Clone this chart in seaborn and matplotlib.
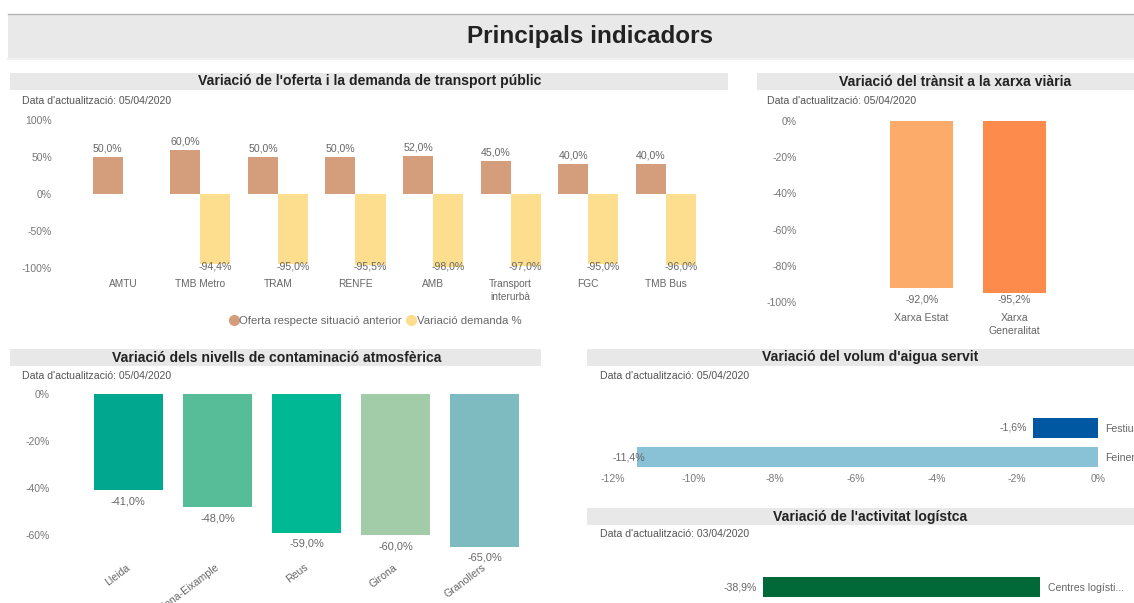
import matplotlib
matplotlib.use("Agg")
import matplotlib.pyplot as plt
import seaborn as sns
import numpy as np
import pandas as pd
from matplotlib.patches import Rectangle
from matplotlib.lines import Line2D
from matplotlib.ticker import FuncFormatter

# ---------------- data ----------------
header_title = "Principals indicadors"

transport_title = "Variació de l'oferta i la demanda de transport públic"
transport_categories = ["AMTU", "TMB Metro", "TRAM", "RENFE", "AMB",
                        "Transport\ninterurbà", "FGC", "TMB Bus"]
transport_series = ["Oferta respecte situació anterior", "Variació demanda %"]
oferta_values = [50.0, 60.0, 50.0, 50.0, 52.0, 45.0, 40.0, 40.0]
demanda_values = [np.nan, -94.4, -95.0, -95.5, -98.0, -97.0, -95.0, -96.0]
transport_yticks = [-100, -50, 0, 50, 100]

transit_title = "Variació del trànsit a la xarxa viària"
transit_categories = ["Xarxa Estat", "Xarxa\nGeneralitat"]
transit_values = [-92.0, -95.2]
transit_yticks = [0, -20, -40, -60, -80, -100]

contam_title = "Variació dels nivells de contaminació atmosfèrica"
contam_categories = ["Lleida", "Barcelona-Eixample", "Reus", "Girona", "Granollers"]
contam_values = [-41.0, -48.0, -59.0, -60.0, -65.0]
contam_yticks = [0, -20, -40, -60]

aigua_title = "Variació del volum d'aigua servit"
aigua_categories = ["Festius", "Feiners"]
aigua_values = [-1.6, -11.4]
aigua_xticks = [-12, -10, -8, -6, -4, -2, 0]

logist_title = "Variació de l'activitat logístca"
logist_categories = ["Centres logísti..."]
logist_values = [-38.9]

update_dates = ["05/04/2020", "05/04/2020", "05/04/2020", "05/04/2020", "03/04/2020"]

# ---------------- style ----------------
plt.rcParams["font.family"] = ["Liberation Sans", "DejaVu Sans"]
W, H = 1134, 603
fig = plt.figure(figsize=(W / 100, H / 100), dpi=100)
fig.patch.set_facecolor("white")

C_OF = "#D49E7C"
C_DEM = "#FDDE8E"
C_TRANSIT = ["#FDAB6A", "#FD8B4C"]
C_CONTAM = ["#01A78F", "#57BD99", "#00B894", "#A2CCA8", "#7DBBC1"]
C_AIGUA = ["#0158A2", "#89C2D7"]
C_LOG = ["#006937"]
BAND = "#e8e8e8"
TICK_C = "#777777"
LAB_C = "#666666"
TICK_FS = 7.5


def fx(x):
    return x / W


def fy(y):
    return 1 - y / H


def add_axes_px(x0, y0, x1, y1):
    return fig.add_axes([fx(x0), fy(y1), (x1 - x0) / W, (y1 - y0) / H])


def band(x0, y0, x1, y1, color=BAND):
    fig.patches.append(Rectangle((fx(x0), fy(y1)), (x1 - x0) / W, (y1 - y0) / H,
                                 transform=fig.transFigure, facecolor=color,
                                 edgecolor="none", zorder=0))


def pct1(v):
    return f"{v:.1f}%".replace(".", ",")


pct0 = FuncFormatter(lambda v, p: f"{v:.0f}%")


def clean(ax):
    sns.despine(ax=ax, left=True, bottom=True, right=True, top=True)
    ax.set_xlabel("")
    ax.set_ylabel("")
    ax.set_facecolor("none")
    ax.tick_params(length=0, labelsize=TICK_FS, labelcolor=TICK_C)


# ---------------- header ----------------
band(8, 14, W, 58, "#e9e9e9")
fig.lines.append(Line2D([fx(8), 1], [fy(14), fy(14)], transform=fig.transFigure,
                        color="#b5b5b5", lw=1))
fig.lines.append(Line2D([fx(8), 1], [fy(58.5), fy(58.5)], transform=fig.transFigure,
                        color="#f2f2f2", lw=1.5))
fig.text(fx(590), fy(36), header_title, ha="center", va="center",
         fontsize=17.5, fontweight="bold", color="#222222")

# panel title bands
panels = [
    (10, 73, 728, 90, 370, transport_title, 22, 101),
    (757, 73, W, 90, 955, transit_title, 767, 101),
    (10, 349, 541, 366, 277, contam_title, 22, 376),
    (587, 349, W, 366, 870, aigua_title, 600, 376),
    (587, 508, W, 525, 870, logist_title, 600, 534),
]
for (x0, y0, x1, y1, tx, title, dx, dy), date in zip(panels, update_dates):
    band(x0, y0, x1, y1)
    fig.text(fx(tx), fy((y0 + y1) / 2), title, ha="center", va="center",
             fontsize=10.1, fontweight="bold", color="#222222")
    fig.text(fx(dx), fy(dy), f"Data d'actualització: {date}", ha="left",
             va="center", fontsize=7.6, color="#555555")

# ---------------- panel 1: transport ----------------
ax1 = add_axes_px(60, 120, 720, 268)
df1 = pd.DataFrame({
    "cat": transport_categories * 2,
    "serie": [transport_series[0]] * len(transport_categories)
    + [transport_series[1]] * len(transport_categories),
    "val": oferta_values + demanda_values,
})
sns.barplot(data=df1, x="cat", y="val", hue="serie", order=transport_categories,
            hue_order=transport_series, palette=[C_OF, C_DEM], width=0.774,
            saturation=1, errorbar=None, legend=False, ax=ax1)
ax1.set_ylim(-100, 100)
ax1.set_xlim(-0.81, 7.70)
ax1.set_yticks(transport_yticks)
ax1.yaxis.set_major_formatter(pct0)
clean(ax1)
ax1.tick_params(axis="y", pad=5.8)
ax1.tick_params(axis="x", pad=8, labelsize=7.3, labelcolor=LAB_C)
for t in ax1.get_xticklabels():
    t.set_linespacing(1.35)
ymin1 = ax1.get_ylim()[0]
for p in ax1.patches:
    h = p.get_height()
    if h is None or np.isnan(h) or h == 0:
        continue
    xc = p.get_x() + p.get_width() / 2
    if h > 0:
        ax1.annotate(pct1(h), (xc, h), xytext=(0, 2.5), textcoords="offset points",
                     ha="center", va="bottom", fontsize=7.6, color=LAB_C)
    else:
        ax1.annotate(pct1(h), (xc, ymin1), xytext=(0, 1), textcoords="offset points",
                     ha="center", va="center", fontsize=7.6, color=LAB_C)
handles = [Line2D([], [], marker="o", ls="", color=c, markersize=7)
           for c in (C_OF, C_DEM)]
fig.legend(handles, transport_series, loc="center", bbox_to_anchor=(fx(375), fy(321)),
           ncol=2, frameon=False, fontsize=8.2, handletextpad=0.05,
           columnspacing=0.35, handlelength=0.9, labelcolor=LAB_C)

# ---------------- panel 2: transit ----------------
ax2 = add_axes_px(805, 121, 1130, 302)
sns.barplot(x=transit_categories, y=transit_values, hue=transit_categories,
            palette=C_TRANSIT, width=0.68, saturation=1, errorbar=None,
            legend=False, ax=ax2)
ax2.set_ylim(-100, 0)
ax2.set_xlim(-1.26, 2.25)
ax2.set_yticks(transit_yticks)
ax2.yaxis.set_major_formatter(pct0)
clean(ax2)
ax2.tick_params(axis="y", pad=5.8)
ax2.tick_params(axis="x", pad=8, labelsize=7.6, labelcolor=LAB_C)
for t in ax2.get_xticklabels():
    t.set_linespacing(1.3)
ymin2 = ax2.get_ylim()[0]
for p in ax2.patches:
    h = p.get_height()
    xc = p.get_x() + p.get_width() / 2
    ax2.annotate(pct1(h), (xc, ymin2), xytext=(0, 1.5), textcoords="offset points",
                 ha="center", va="center", fontsize=7.6, color=LAB_C)

# ---------------- panel 3: contaminació ----------------
ax3 = add_axes_px(58, 394, 540, 546.75)
sns.barplot(x=contam_categories, y=contam_values, hue=contam_categories,
            palette=C_CONTAM, width=0.775, saturation=1, errorbar=None,
            legend=False, ax=ax3)
ax3.set_ylim(-65, 0)
ax3.set_xlim(-0.79, 4.62)
ax3.set_yticks(contam_yticks)
ax3.yaxis.set_major_formatter(pct0)
clean(ax3)
ax3.tick_params(axis="y", pad=5.8)
ax3.tick_params(axis="x", pad=14, labelsize=7.6, labelcolor=LAB_C)
for t in ax3.get_xticklabels():
    t.set_rotation(37)
    t.set_ha("right")
    t.set_va("center")
    t.set_rotation_mode("anchor")
for p in ax3.patches:
    h = p.get_height()
    xc = p.get_x() + p.get_width() / 2
    ax3.annotate(pct1(h), (xc, h), xytext=(0, -4.5), textcoords="offset points",
                 ha="center", va="top", fontsize=7.9, color=LAB_C)

# ---------------- panel 4: aigua ----------------
ax4 = add_axes_px(613, 413.5, 1098, 471.5)
sns.barplot(x=aigua_values, y=aigua_categories, hue=aigua_categories, orient="h",
            palette=C_AIGUA, width=0.66, saturation=1, errorbar=None,
            legend=False, ax=ax4)
ax4.set_xlim(-12, 0)
ax4.set_ylim(1.5, -0.5)
ax4.set_xticks(aigua_xticks)
ax4.xaxis.set_major_formatter(pct0)
clean(ax4)
ax4.yaxis.tick_right()
ax4.tick_params(axis="x", pad=1.5)
ax4.tick_params(axis="y", pad=5, labelsize=7.6, labelcolor=LAB_C)

fig.canvas.draw()
renderer = fig.canvas.get_renderer()
ax4_bb = ax4.get_window_extent(renderer)
for p in ax4.patches:
    w = p.get_width()
    yc = p.get_y() + p.get_height() / 2
    t = ax4.annotate(pct1(w), (w, yc), xytext=(-4.3, 0), textcoords="offset points",
                     ha="right", va="center", fontsize=7.6, color=LAB_C)
    bb = t.get_window_extent(renderer)
    if bb.x0 < ax4_bb.x0:
        t.remove()
        ax4.annotate(pct1(w), (ax4.get_xlim()[0], yc), xytext=(0, 0),
                     textcoords="offset points", ha="left", va="center",
                     fontsize=7.6, color=LAB_C)

# ---------------- panel 5: logística ----------------
ax5 = add_axes_px(720, 572, 1040, 602)
sns.barplot(x=logist_values, y=logist_categories, hue=logist_categories, orient="h",
            palette=C_LOG, width=0.67, saturation=1, errorbar=None,
            legend=False, ax=ax5)
ax5.set_xlim(-45, 0)
ax5.set_ylim(0.5, -0.5)
clean(ax5)
ax5.set_xticks([])
ax5.yaxis.tick_right()
ax5.tick_params(axis="y", pad=5.8, labelsize=7.6, labelcolor=LAB_C)
for p in ax5.patches:
    w = p.get_width()
    yc = p.get_y() + p.get_height() / 2
    ax5.annotate(pct1(w), (w, yc), xytext=(-4.3, 0), textcoords="offset points",
                 ha="right", va="center", fontsize=7.6, color=LAB_C)

fig.savefig("out.png", dpi=100, facecolor="white")
